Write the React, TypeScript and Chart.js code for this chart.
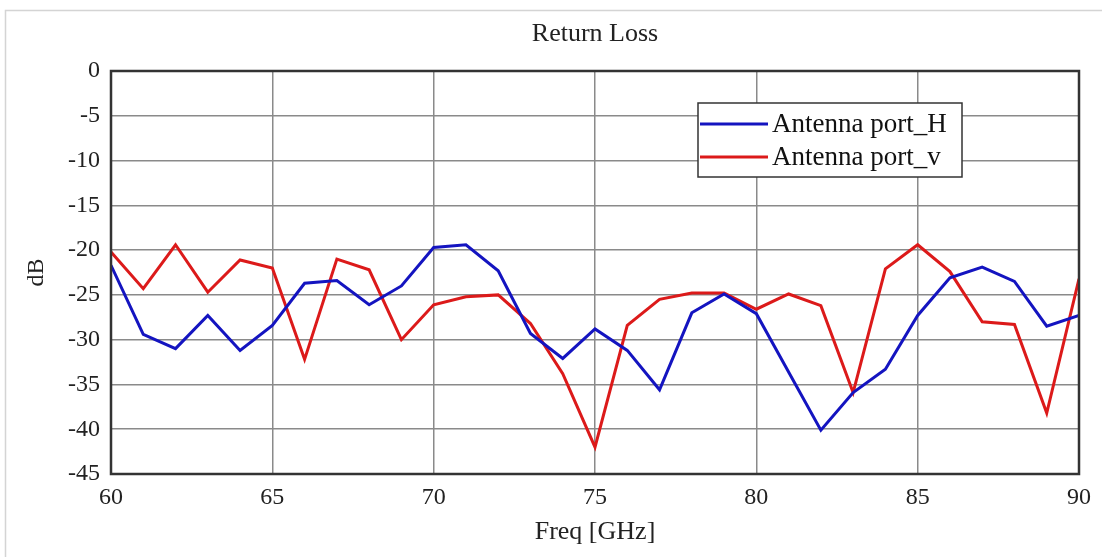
import React, { useEffect, useRef } from "react";
import { Chart, registerables } from "chart.js";

Chart.register(...registerables);

const freqs = [60, 61, 62, 63, 64, 65, 66, 67, 68, 69, 70, 71, 72, 73, 74, 75, 76, 77, 78, 79, 80, 81, 82, 83, 84, 85, 86, 87, 88, 89, 90];
const portH = [-21.7, -29.4, -31.0, -27.3, -31.2, -28.4, -23.7, -23.4, -26.1, -24.0, -19.7, -19.4, -22.3, -29.3, -32.1, -28.8, -31.2, -35.6, -27.0, -24.9, -27.1, -33.6, -40.1, -35.9, -33.3, -27.3, -23.1, -21.9, -23.5, -28.5, -27.3];
const portV = [-20.2, -24.3, -19.4, -24.7, -21.1, -22.0, -32.2, -21.0, -22.2, -30.0, -26.1, -25.2, -25.0, -28.2, -33.8, -42.0, -28.4, -25.5, -24.8, -24.8, -26.6, -24.9, -26.2, -35.9, -22.1, -19.4, -22.4, -28.0, -28.3, -38.2, -23.2];
const seriesNames = ["Antenna port_H", "Antenna port_v"];
const seriesColors = ["#1414c0", "#dc1a1a"];
const chartTitle = "Return Loss";
const xTitle = "Freq [GHz]";
const yTitle = "dB";

const FONT = "'Liberation Serif', 'Times New Roman', serif";

const decorPlugin = {
  id: "decor",
  beforeDraw(chart: any) {
    const ctx = chart.ctx;
    ctx.save();
    ctx.fillStyle = "#ffffff";
    ctx.fillRect(0, 0, chart.width, chart.height);
    ctx.strokeStyle = "#d4d4d4";
    ctx.lineWidth = 1.5;
    ctx.beginPath();
    ctx.moveTo(5.5, chart.height);
    ctx.lineTo(5.5, 10.5);
    ctx.lineTo(chart.width, 10.5);
    ctx.stroke();
    const a = chart.chartArea;
    ctx.fillStyle = "#222";
    ctx.font = `26px ${FONT}`;
    ctx.textAlign = "center";
    ctx.textBaseline = "middle";
    ctx.fillText(chartTitle, (a.left + a.right) / 2, 34);
    ctx.restore();
  },
  afterDraw(chart: any) {
    const ctx = chart.ctx;
    const a = chart.chartArea;
    ctx.save();
    ctx.strokeStyle = "#333";
    ctx.lineWidth = 2.5;
    ctx.strokeRect(a.left, a.top, a.right - a.left, a.bottom - a.top);
    const bx = 698, by = 103, bw = 264, bh = 74;
    ctx.fillStyle = "#ffffff";
    ctx.fillRect(bx, by, bw, bh);
    ctx.strokeStyle = "#333";
    ctx.lineWidth = 1.5;
    ctx.strokeRect(bx, by, bw, bh);
    ctx.font = `27px ${FONT}`;
    ctx.textAlign = "left";
    ctx.textBaseline = "middle";
    const rows = [124, 157];
    seriesNames.forEach((name, i) => {
      ctx.strokeStyle = seriesColors[i];
      ctx.lineWidth = 3;
      ctx.beginPath();
      ctx.moveTo(bx + 2, rows[i]);
      ctx.lineTo(bx + 70, rows[i]);
      ctx.stroke();
      ctx.fillStyle = "#111";
      ctx.fillText(name, bx + 74, rows[i] + 1);
    });
    ctx.restore();
  },
};

export default function App() {
  const ref = useRef<HTMLCanvasElement | null>(null);
  useEffect(() => {
    if (!ref.current) return;
    const chart = new Chart(ref.current, {
      type: "line",
      data: {
        datasets: [
          {
            label: seriesNames[0],
            data: freqs.map((f, i) => ({ x: f, y: portH[i] })),
            borderColor: seriesColors[0],
            backgroundColor: seriesColors[0],
            borderWidth: 3,
            pointRadius: 0,
            tension: 0,
          },
          {
            label: seriesNames[1],
            data: freqs.map((f, i) => ({ x: f, y: portV[i] })),
            borderColor: seriesColors[1],
            backgroundColor: seriesColors[1],
            borderWidth: 3,
            pointRadius: 0,
            tension: 0,
          },
        ],
      },
      options: {
        responsive: false,
        animation: false,
        layout: { padding: { top: 71, right: 23, left: 0, bottom: 0 } },
        plugins: {
          legend: { display: false },
          title: { display: false },
          tooltip: { enabled: false },
        },
        scales: {
          x: {
            type: "linear",
            min: 60,
            max: 90,
            afterFit: (s: any) => {
              s.height = 83;
            },
            ticks: {
              stepSize: 5,
              color: "#222",
              font: { family: FONT, size: 24 },
              padding: 9,
              maxRotation: 0,
            },
            grid: { color: "#8a8a8a", lineWidth: 1.5, drawTicks: false },
            border: { display: false },
            title: {
              display: true,
              text: xTitle,
              color: "#222",
              font: { family: FONT, size: 26 },
              padding: { top: 0, bottom: 9 },
            },
          },
          y: {
            min: -45,
            max: 0,
            afterFit: (s: any) => {
              s.width = 111;
            },
            ticks: {
              stepSize: 5,
              color: "#222",
              font: { family: FONT, size: 24 },
              padding: 11,
            },
            grid: { color: "#8a8a8a", lineWidth: 1.5, drawTicks: false },
            border: { display: false },
            title: {
              display: true,
              text: yTitle,
              color: "#222",
              font: { family: FONT, size: 24 },
              padding: { top: 22, bottom: 0 },
            },
          },
        },
      },
      plugins: [decorPlugin],
    });
    return () => chart.destroy();
  }, []);
  return (
    <div style={{ position: "fixed", left: 0, top: 0, width: 1102, height: 557, background: "#fff" }}>
      <canvas ref={ref} width={1102} height={557} style={{ display: "block" }} />
    </div>
  );
}
